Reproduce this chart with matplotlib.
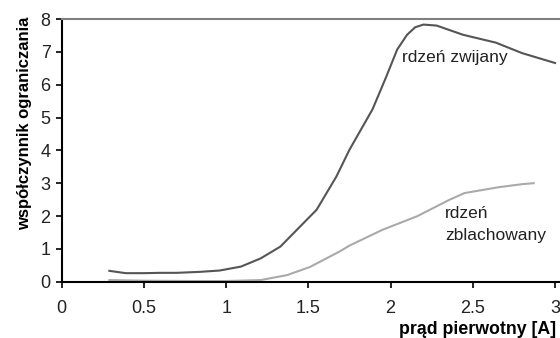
import matplotlib
matplotlib.use("Agg")
import matplotlib.pyplot as plt

plt.rcParams["font.family"] = ["Liberation Sans", "DejaVu Sans"]

# rdzeń zwijany
x_zw = [0.29, 0.39, 0.5, 0.6, 0.7, 0.84, 0.96, 1.09, 1.21, 1.33, 1.43, 1.55, 1.67, 1.75,
        1.89, 1.97, 2.04, 2.10, 2.15, 2.2, 2.28, 2.44, 2.64, 2.8, 3.0]
y_zw = [0.33, 0.26, 0.26, 0.27, 0.27, 0.30, 0.34, 0.46, 0.71, 1.07, 1.58, 2.19, 3.2, 4.02,
        5.25, 6.2, 7.07, 7.52, 7.75, 7.83, 7.8, 7.52, 7.28, 6.96, 6.66]

# rdzeń zblachowany
x_zb = [0.29, 0.5, 0.8, 1.0, 1.21, 1.37, 1.51, 1.69, 1.75, 1.95, 2.16, 2.36, 2.45, 2.66, 2.8, 2.87]
y_zb = [0.05, 0.03, 0.02, 0.02, 0.05, 0.2, 0.45, 0.92, 1.1, 1.58, 1.99, 2.5, 2.7, 2.88, 2.97, 3.0]

x_ticks = [0, 0.5, 1, 1.5, 2, 2.5, 3]
x_ticklabels = ["0", "0.5", "1", "1.5", "2", "2.5", "3"]
y_ticks = [0, 1, 2, 3, 4, 5, 6, 7, 8]

fig = plt.figure(figsize=(5.6, 3.38), dpi=100)
ax = fig.add_axes([61.7 / 560, 1 - 281.7 / 338, 1 - 61.7 / 560, (281.7 - 19) / 338])

ax.plot(x_zw, y_zw, color="#555555", lw=1.5)
ax.plot(x_zb, y_zb, color="#aaaaaa", lw=1.5)

ax.set_xlim(0, 3.03)
ax.set_ylim(0, 8)
ax.set_xticks(x_ticks)
ax.set_xticklabels(x_ticklabels)
ax.set_yticks(y_ticks)
ax.tick_params(labelsize=13, length=4, width=1.2, colors="black")
ax.tick_params(axis="x", pad=9)
ax.tick_params(axis="y", pad=4)
for lbl in ax.get_xticklabels() + ax.get_yticklabels():
    lbl.set_color("#222222")

ax.spines["right"].set_visible(False)
ax.spines["top"].set_color("#808080")
ax.spines["top"].set_linewidth(1.5)
ax.spines["left"].set_linewidth(1.5)
ax.spines["bottom"].set_linewidth(1.5)

fig.text(25 / 560, 1 - 123 / 338, "współczynnik ograniczania", fontsize=12,
         fontweight="bold", rotation=90, ha="center", va="center")
fig.text(556 / 560, 1 - 330 / 338, "prąd pierwotny [A]", fontsize=12.8,
         fontweight="bold", ha="right", va="center")

ax.text(2.07, 6.82, "rdzeń zwijany", fontsize=12.5, color="#222222", va="center")
ax.text(2.33, 2.09, "rdzeń", fontsize=12.5, color="#222222", va="center")
ax.text(2.33, 1.42, "zblachowany", fontsize=12.5, color="#222222", va="center")

fig.savefig("out.png", dpi=100)
